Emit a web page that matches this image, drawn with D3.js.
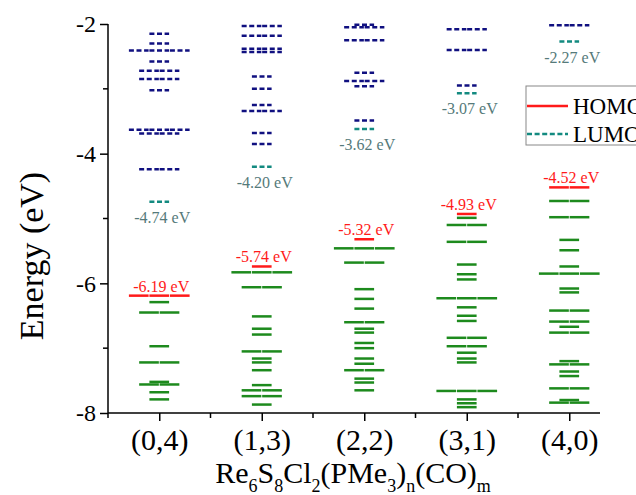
<!DOCTYPE html>
<html>
<head>
<meta charset="utf-8">
<script src="https://cdn.jsdelivr.net/npm/d3@7"></script>
<style>
  body { margin: 0; background: #fff; }
  text { font-family: "Liberation Serif", "Times New Roman", serif; }
</style>
</head>
<body>
<div id="chart"></div>
<script>
const width = 636, height = 495;

// categories (n,m)
const categories = ["(0,4)", "(1,3)", "(2,2)", "(3,1)", "(4,0)"];
const yTicks = [-2, -4, -6, -8];

// frontier orbitals
const homo = [-6.19, -5.74, -5.32, -4.93, -4.52];
const homoDeg = [3, 1, 1, 1, 2];
const lumo = [-4.74, -4.20, -3.62, -3.07, -2.27];
const lumoDeg = [1, 1, 1, 1, 1];

// other levels: [energy, degeneracy]
const occupied = [
    [[-6.29,1],[-6.45,2],[-6.97,1],[-7.22,2],[-7.52,1],[-7.56,2],[-7.68,1],[-7.79,1]],
    [[-5.83,3],[-6.06,2],[-6.51,1],[-6.70,1],[-6.79,1],[-7.05,2],[-7.16,1],[-7.22,1],[-7.34,1],
     [-7.57,1],[-7.65,2],[-7.74,2],[-7.87,1]],
    [[-5.46,3],[-5.68,2],[-6.09,1],[-6.24,1],[-6.39,1],[-6.60,2],[-6.70,1],[-6.76,1],[-6.92,1],
     [-7.00,1],[-7.16,1],[-7.24,1],[-7.34,2],[-7.47,1],[-7.53,1],[-7.65,1]],
    [[-4.99,1],[-5.10,2],[-5.36,2],[-5.71,1],[-5.86,1],[-5.94,1],[-6.23,3],[-6.37,1],[-6.50,1],
     [-6.58,1],[-6.84,2],[-6.97,2],[-7.07,1],[-7.16,1],[-7.22,1],[-7.66,3],[-7.79,1],[-7.85,1],[-7.91,1]],
    [[-4.73,2],[-4.98,2],[-5.33,1],[-5.49,1],[-5.74,1],[-5.85,3],[-6.08,1],[-6.14,1],[-6.42,2],
     [-6.59,2],[-6.67,1],[-6.76,2],[-7.20,1],[-7.25,2],[-7.36,1],[-7.43,1],[-7.62,2],[-7.80,1],[-7.84,2]]
];
const unoccupied = [
    [[-2.15,1],[-2.30,1],[-2.41,3],[-2.58,1],[-2.72,2],[-2.85,2],[-3.02,1],[-3.63,3],[-3.69,2],[-4.24,2]],
    [[-2.03,2],[-2.18,2],[-2.38,2],[-2.43,2],[-2.81,1],[-3.00,1],[-3.25,1],[-3.34,2],[-3.68,1],[-3.85,1]],
    [[-2.01,1],[-2.05,2],[-2.25,2],[-2.75,1],[-2.88,2],[-2.96,1],[-3.49,1]],
    [[-2.08,2],[-2.40,2],[-2.95,1]],
    [[-2.02,2]]
];

const colors = { occ: "#1d8a1d", unocc: "#101080", homo: "#ff1a1a", lumo: "#138a80", lumoText: "#557a7a" };

const svg = d3.select("#chart")
    .append("svg")
    .attr("width", width)
    .attr("height", height);

const x = d3.scaleLinear().domain([-0.5, 4.3]).range([108, 600]);
const y = d3.scaleLinear().domain([-8, -2]).range([413, 24]);
const unit = x(0.2) - x(0); // width of one degenerate orbital

// draw a level as d segments side by side
function drawLevel(g, i, e, d, color, dashed) {
    const total = unit * d;
    const x0 = x(i) - total / 2;
    for (let k = 0; k < d; k++) {
        g.append("line")
            .attr("x1", x0 + k * unit + 0.4)
            .attr("x2", x0 + (k + 1) * unit - 0.4)
            .attr("y1", y(e))
            .attr("y2", y(e))
            .attr("stroke", color)
            .attr("stroke-width", 2.5)
            .attr("stroke-dasharray", dashed ? "5,2.6" : null);
    }
}

const levels = svg.append("g");
categories.forEach((c, i) => {
    occupied[i].forEach(([e, d]) => drawLevel(levels, i, e, d, colors.occ, false));
    unoccupied[i].forEach(([e, d]) => drawLevel(levels, i, e, d, colors.unocc, true));
    drawLevel(levels, i, lumo[i], lumoDeg[i], colors.lumo, true);
    drawLevel(levels, i, homo[i], homoDeg[i], colors.homo, false);

    // energy labels
    levels.append("text")
        .attr("x", x(i) + 3)
        .attr("y", y(lumo[i]) + 21)
        .attr("text-anchor", "middle")
        .attr("font-size", 16)
        .attr("fill", colors.lumoText)
        .text(lumo[i].toFixed(2) + " eV");
    levels.append("text")
        .attr("x", x(i) + 2)
        .attr("y", y(homo[i]) - 4)
        .attr("text-anchor", "middle")
        .attr("font-size", 16)
        .attr("fill", colors.homo)
        .text(homo[i].toFixed(2) + " eV");
});

// axes
const yAxis = svg.append("g")
    .attr("transform", `translate(${x(-0.5)},0)`)
    .call(d3.axisLeft(y).tickValues(yTicks).tickSize(8).tickPadding(4).tickFormat(d => String(d)));
yAxis.append("g").selectAll("line")
    .data([-3, -5, -7])
    .enter().append("line")
    .attr("x1", -5).attr("x2", 0)
    .attr("y1", d => y(d)).attr("y2", d => y(d))
    .attr("stroke", "#000").attr("stroke-width", 1.5);

const xAxis = svg.append("g")
    .attr("transform", `translate(0,${y(-8)})`)
    .call(d3.axisBottom(x).tickValues(d3.range(categories.length)).tickSize(8).tickPadding(8)
        .tickFormat(i => categories[i]));
xAxis.append("g").selectAll("line")
    .data([-0.5, 0.5, 1.5, 2.5, 3.5])
    .enter().append("line")
    .attr("x1", d => x(d)).attr("x2", d => x(d))
    .attr("y1", 0).attr("y2", 5)
    .attr("stroke", "#000").attr("stroke-width", 1.5);

[yAxis, xAxis].forEach(a => {
    a.select(".domain").attr("stroke", "#000").attr("stroke-width", 1.5)
        .attr("d", a === yAxis ? `M0,${y(-8)}V${y(-2)}` : `M${x(-0.5)},0H${x(4.3)}`);
    a.selectAll(".tick line").attr("stroke", "#000").attr("stroke-width", 1.5);
    a.selectAll(".tick text").attr("fill", "#000")
        .style("font-family", '"Liberation Serif", "Times New Roman", serif');
});
yAxis.selectAll(".tick text").attr("font-size", 24);
xAxis.selectAll(".tick text").attr("font-size", 30).attr("dy", "0.71em");

// axis titles
svg.append("text")
    .attr("transform", `translate(43,256) rotate(-90)`)
    .attr("text-anchor", "middle")
    .attr("font-size", 34)
    .text("Energy (eV)");

const xt = svg.append("text")
    .attr("x", 353)
    .attr("y", 483)
    .attr("text-anchor", "middle")
    .attr("font-size", 30);
const titleParts = [["Re", 0], ["6", 1], ["S", 0], ["8", 1], ["Cl", 0], ["2", 1],
    ["(PMe", 0], ["3", 1], [")", 0], ["n", 1], ["(CO)", 0], ["m", 1]];
let prevSub = 0;
titleParts.forEach(([t, sub]) => {
    xt.append("tspan")
        .attr("font-size", sub ? 18 : 30)
        .attr("dy", (sub - prevSub) * 9)
        .text(t);
    prevSub = sub;
});

// legend
const legend = svg.append("g");
legend.append("rect")
    .attr("x", 526).attr("y", 86)
    .attr("width", 130).attr("height", 59)
    .attr("fill", "#fff").attr("stroke", "#888").attr("stroke-width", 1);
legend.append("line")
    .attr("x1", 527).attr("x2", 568).attr("y1", 106).attr("y2", 106)
    .attr("stroke", colors.homo).attr("stroke-width", 2.5);
legend.append("line")
    .attr("x1", 527).attr("x2", 568).attr("y1", 134).attr("y2", 134)
    .attr("stroke", colors.lumo).attr("stroke-width", 2.5).attr("stroke-dasharray", "5,2.6");
legend.append("text").attr("x", 573).attr("y", 114).attr("font-size", 23).text("HOMO");
legend.append("text").attr("x", 573).attr("y", 142).attr("font-size", 23).text("LUMO");
</script>
</body>
</html>
